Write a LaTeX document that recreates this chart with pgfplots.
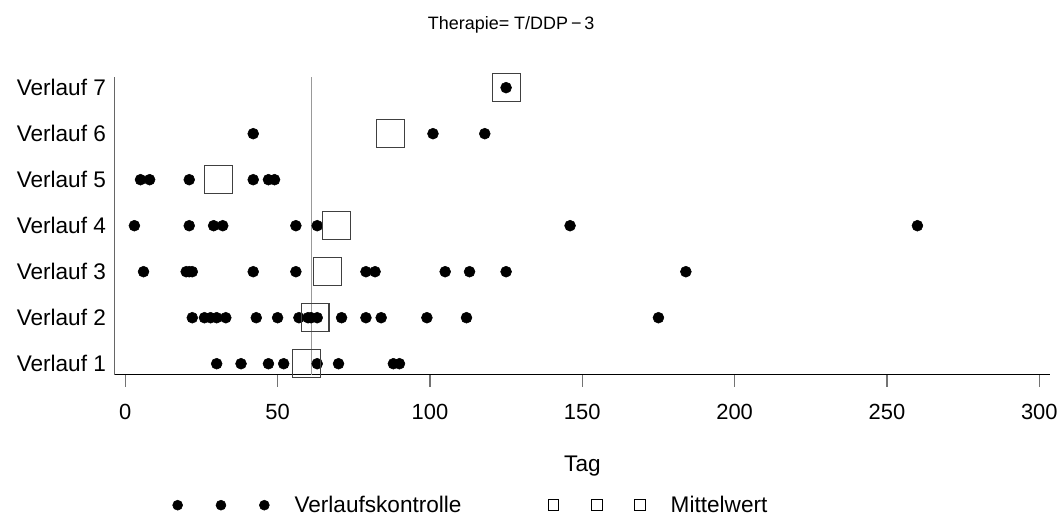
\documentclass[border=0pt]{standalone}
\usepackage{fontspec}
\setmainfont{Liberation Sans}
\usepackage{pgfplots}
\pgfplotsset{compat=1.18}
\pgfplotsset{
  dotlegend/.style={legend image code/.code={%
    \draw[##1, mark size=3.75pt] plot[only marks] coordinates {(0pt,0pt) (32.6pt,0pt) (65.25pt,0pt)};}},
  squarelegend/.style={legend image code/.code={%
    \draw[##1, mark size=4.1pt, black, line width=0.6pt] plot[only marks] coordinates {(0pt,0pt) (32.6pt,0pt) (65.25pt,0pt)};}},
}

\begin{document}
\begin{tikzpicture}
  \begin{axis}[
    at={(0pt,0pt)}, anchor=south west,
    scale only axis,
    width=704.25pt, height=224.25pt,
    xmin=-3.5, xmax=303.6,
    ymin=0.762, ymax=7.238,
    axis x line*=bottom,
    axis y line*=left,
    x axis line style={black, line width=0.8pt, -},
    y axis line style={black!60, line width=0.8pt, -},
    xtick={0,50,100,150,200,250,300},
    ytick={1,2,3,4,5,6,7},
    yticklabels={Verlauf 1,Verlauf 2,Verlauf 3,Verlauf 4,Verlauf 5,Verlauf 6,Verlauf 7},
    tick align=outside,
    major tick length=9pt,
    x tick style={black!55, line width=1pt},
    y tick style={draw=none},
    xticklabel style={font=\fontsize{16.5}{19}\selectfont, anchor=north, yshift=-10pt},
    yticklabel style={font=\fontsize{17}{20}\selectfont, anchor=east, xshift=6pt},
    /pgf/number format/assume math mode=true,
    xlabel={Tag},
    xlabel style={font=\fontsize{17}{20}\selectfont, at={(0.5,-0.2977)}, anchor=center, yshift=-2.25pt},
    title={Therapie= T/DDP\,−\,3},
    title style={font=\fontsize{13.5}{16}\selectfont, at={(0.4239,1.1806)}, anchor=center, yshift=-7.5pt},
    clip=false,
    legend columns=2,
    legend cell align=left,
    legend style={draw=none, fill=none, inner sep=0pt,
      at={(0.0618,-0.4314)}, anchor=west, yshift=-1.5pt,
      font=\fontsize{17}{20}\selectfont,
      /tikz/every odd column/.append style={column sep=17pt},
      /tikz/every even column/.append style={column sep=63pt}},
  ]
    % reference line
    \addplot[black!40, line width=0.8pt, forget plot] coordinates {(61,0.762) (61,7.238)};

    % Verlaufskontrollen
    \addplot[only marks, mark=*, mark size=4.1pt, black, dotlegend]
      coordinates {
      (30,1) (38,1) (47,1) (52,1) (63,1) (70,1) (88,1) (90,1)
      (22,2) (26,2) (28,2) (30,2) (33,2) (43,2) (50,2) (57,2) (60,2) (61,2) (63,2)
      (71,2) (79,2) (84,2) (99,2) (112,2) (175,2)
      (6,3) (20,3) (21,3) (22,3) (42,3) (56,3) (79,3) (82,3) (105,3) (113,3) (125,3) (184,3)
      (3,4) (21,4) (29,4) (32,4) (56,4) (63,4) (146,4) (260,4)
      (5,5) (8,5) (21,5) (42,5) (47,5) (49,5)
      (42,6) (101,6) (118,6)
      (125,7)
    };
    \addlegendentry{Verlaufskontrolle}

    % Mittelwerte
    \addplot[only marks, mark=square, mark size=10.5pt, black!75, line width=0.8pt, squarelegend]
      coordinates {
      (59.6,1) (62.3,2) (66.5,3) (69.3,4) (30.6,5) (87,6) (125,7)
    };
    \addlegendentry{Mittelwert}
  \end{axis}
  \path (-86.25pt,-109.5pt) rectangle (710.25pt,282pt);
\end{tikzpicture}
\end{document}
